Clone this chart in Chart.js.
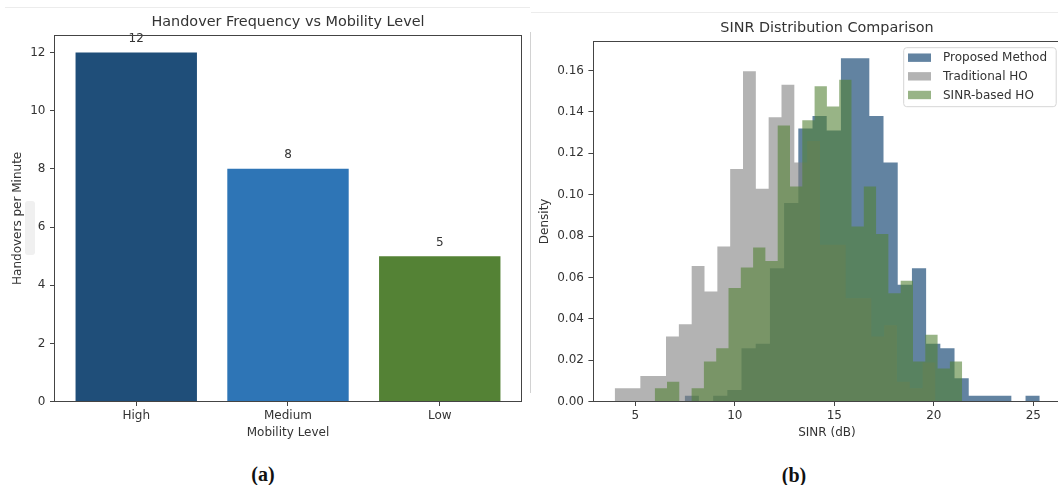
<!DOCTYPE html>
<html>
<head>
<meta charset="utf-8">
<title>Handover Frequency and SINR Distribution</title>
<script src="https://cdn.jsdelivr.net/npm/chart.js@4.4.1/dist/chart.umd.min.js"></script>
<style>
  html, body { margin:0; padding:0; width:1058px; height:485px; overflow:hidden; background:#ffffff; }
  .abs { position:absolute; }
  canvas { display:block; }
  #boxA { left:0; top:0; width:530px; height:440px; }
  #boxB { left:530px; top:0; width:540px; height:440px; }
  .cap { position:absolute; font-family:'Liberation Serif','DejaVu Serif',serif; font-weight:bold; font-size:20px; line-height:20px; color:#111; transform:translateX(-50%); white-space:nowrap; }
</style>
</head>
<body>
<div class="abs" style="left:5px;top:7px;width:525px;height:1px;background:#ececec"></div>
<div class="abs" style="left:531px;top:12px;width:527px;height:1px;background:#ececec"></div>
<div class="abs" style="left:530px;top:32px;width:1px;height:361px;background:#d2d2d2"></div>
<div class="abs" style="left:25px;top:201px;width:10px;height:54px;background:#f0f0f0;border-radius:3px"></div>
<div class="abs" id="boxA"><canvas id="chartA" width="530" height="440"></canvas></div>
<div class="abs" id="boxB"><canvas id="chartB" width="540" height="440"></canvas></div>
<div class="cap" style="left:263px;top:464px">(a)</div>
<div class="cap" style="left:794px;top:465px">(b)</div>
<script>
// ---------- data: panel (a) ----------
const mobilityLevels = ['High', 'Medium', 'Low'];
const handoversPerMinute = [12, 8, 5];
const mobilityColors = ['#1f4e79', '#2e75b6', '#548235'];
const handoverTicks = [0, 2, 4, 6, 8, 10, 12];
const titleA = 'Handover Frequency vs Mobility Level';
const xLabelA = 'Mobility Level';
const yLabelA = 'Handovers per Minute';

// ---------- data: panel (b) ----------
const titleB = 'SINR Distribution Comparison';
const xLabelB = 'SINR (dB)';
const yLabelB = 'Density';
const sinrTicks = [5, 10, 15, 20, 25];
const densityTicks = [0, 0.02, 0.04, 0.06, 0.08, 0.10, 0.12, 0.14, 0.16];

const proposedEdges = [7.482, 8.196, 8.909, 9.623, 10.336, 11.050, 11.764, 12.477, 13.191, 13.904,
  14.618, 15.332, 16.045, 16.759, 17.472, 18.186, 18.900, 19.613, 20.327, 21.040,
  21.754, 22.468, 23.181, 23.895, 24.608, 25.322];
const proposedDensity = [0.0029, 0, 0.0029, 0.0057, 0.0258, 0.0280, 0.0645, 0.0960, 0.1320, 0.1380,
  0.1310, 0.1660, 0.1660, 0.1380, 0.1156, 0.0565, 0.0645, 0.0280, 0.0258, 0.0113,
  0.0029, 0.0029, 0.0029, 0, 0.0029];

const traditionalEdges = [3.965, 4.610, 5.254, 5.899, 6.544, 7.189, 7.833, 8.478, 9.123, 9.767,
  10.412, 11.057, 11.701, 12.346, 12.991, 13.636, 14.280, 14.925, 15.570, 16.214,
  16.859, 17.504, 18.148, 18.793, 19.438, 20.083];
const traditionalDensity = [0.0065, 0.0065, 0.0124, 0.0124, 0.0315, 0.0374, 0.0656, 0.0532, 0.0750, 0.1124,
  0.1597, 0.1029, 0.1374, 0.1531, 0.1156, 0.1260, 0.0758, 0.0758, 0.0500, 0.0500,
  0.0315, 0.0370, 0.0097, 0.0065, 0.0190];

const sinrBasedEdges = [5.975, 6.593, 7.211, 7.829, 8.447, 9.065, 9.683, 10.301, 10.919, 11.537,
  12.155, 12.773, 13.391, 14.009, 14.627, 15.245, 15.863, 16.481, 17.099, 17.717,
  18.335, 18.953, 19.571, 20.189, 20.807, 21.425];
const sinrBasedDensity = [0.0065, 0.0097, 0, 0.0065, 0.0194, 0.0258, 0.0549, 0.0648, 0.0745, 0.0680,
  0.1334, 0.1040, 0.1360, 0.1524, 0.1427, 0.1556, 0.0847, 0.1040, 0.0810, 0.0524,
  0.0585, 0.0194, 0.0323, 0.0160, 0.0194];

const seriesNames = ['Proposed Method', 'Traditional HO', 'SINR-based HO'];
const seriesColors = ['rgba(31,78,121,0.70)', 'rgba(128,128,128,0.60)', 'rgba(84,130,53,0.60)'];

// ---------- shared styling ----------
Chart.defaults.font.family = "'DejaVu Sans', sans-serif";
Chart.defaults.font.size = 12;
Chart.defaults.color = '#333333';

const TEXT = '#333333';
const tickGrid = { display: true, drawOnChartArea: false, drawTicks: true, tickLength: 4.3, tickColor: '#444444', tickWidth: 1, offset: false };

const spines = {
  id: 'spines',
  afterDatasetsDraw(chart) {
    const { ctx, chartArea: a } = chart;
    ctx.save();
    ctx.strokeStyle = '#444444';
    ctx.lineWidth = 1;
    const l = Math.round(a.left) + 0.5, t = Math.round(a.top) + 0.5;
    const r = Math.round(a.right) - 0.5, b = Math.round(a.bottom) - 0.5;
    ctx.strokeRect(l, t, r - l, b - t);
    ctx.restore();
  }
};

// ---------- panel (a) ----------
const barValueLabels = {
  id: 'barValueLabels',
  afterDatasetsDraw(chart) {
    const ctx = chart.ctx;
    const meta = chart.getDatasetMeta(0);
    ctx.save();
    ctx.font = "12px 'DejaVu Sans', sans-serif";
    ctx.fillStyle = TEXT;
    ctx.textAlign = 'center';
    ctx.textBaseline = 'middle';
    meta.data.forEach((bar, i) => {
      ctx.fillText(String(handoversPerMinute[i]), bar.x, bar.y - 13.5);
    });
    ctx.restore();
  }
};

new Chart(document.getElementById('chartA'), {
  type: 'bar',
  data: {
    datasets: [{
      data: handoversPerMinute.map((v, i) => ({ x: i, y: v })),
      backgroundColor: mobilityColors,
      borderWidth: 0,
      barPercentage: 0.8,
      categoryPercentage: 1.0
    }]
  },
  options: {
    responsive: false,
    animation: false,
    events: [],
    layout: { padding: { left: 0, right: 8.3, top: 0, bottom: 0 } },
    plugins: {
      legend: { display: false },
      tooltip: { enabled: false },
      title: {
        display: true, text: titleA, fullSize: false, color: TEXT,
        font: { size: 14.4, weight: 'normal' },
        padding: { top: 14, bottom: 3.7 }
      }
    },
    scales: {
      x: {
        type: 'linear', min: -0.54, max: 2.54, offset: false,
        afterBuildTicks: s => { s.ticks = mobilityLevels.map((c, i) => ({ value: i })); },
        ticks: { callback: v => mobilityLevels[Math.round(v)], padding: 3, maxRotation: 0, autoSkip: false, color: TEXT },
        grid: tickGrid,
        border: { display: false },
        title: { display: true, text: xLabelA, color: TEXT, padding: { top: 0, bottom: 0 } },
        afterFit: s => { s.height = 38.3; }
      },
      y: {
        min: 0, max: 12.6,
        afterBuildTicks: s => { s.ticks = handoverTicks.map(v => ({ value: v })); },
        ticks: { padding: 4.5, color: TEXT },
        grid: tickGrid,
        border: { display: false },
        title: { display: true, text: yLabelA, color: TEXT, padding: { top: 10.5, bottom: 0 } },
        afterFit: s => { s.width = 54.3; }
      }
    }
  },
  plugins: [barValueLabels, spines]
});

// ---------- panel (b) ----------
function histPoints(edges, dens) {
  return edges.map((e, i) => ({ x: e, y: i < dens.length ? dens[i] : dens[dens.length - 1] }));
}
const histSets = [
  [proposedEdges, proposedDensity],
  [traditionalEdges, traditionalDensity],
  [sinrBasedEdges, sinrBasedDensity]
];
const drawOrder = [3, 2, 1]; // proposed at the bottom, SINR-based on top

const histLegend = {
  id: 'histLegend',
  afterDraw(chart) {
    const { ctx, chartArea: a } = chart;
    const right = a.right - 5, width = 152.5, left = right - width;
    const top = a.top + 6.7, height = 59, rad = 3;
    ctx.save();
    ctx.beginPath();
    ctx.moveTo(left + rad, top);
    ctx.lineTo(right - rad, top); ctx.quadraticCurveTo(right, top, right, top + rad);
    ctx.lineTo(right, top + height - rad); ctx.quadraticCurveTo(right, top + height, right - rad, top + height);
    ctx.lineTo(left + rad, top + height); ctx.quadraticCurveTo(left, top + height, left, top + height - rad);
    ctx.lineTo(left, top + rad); ctx.quadraticCurveTo(left, top, left + rad, top);
    ctx.closePath();
    ctx.fillStyle = 'rgba(255,255,255,0.8)';
    ctx.fill();
    ctx.strokeStyle = '#d6d6d6';
    ctx.lineWidth = 1;
    ctx.stroke();
    ctx.font = "12px 'DejaVu Sans', sans-serif";
    ctx.textAlign = 'left';
    ctx.textBaseline = 'middle';
    chart.data.datasets.forEach((ds, i) => {
      const cy = top + 10 + i * 18.65;
      ctx.fillStyle = ds.backgroundColor;
      ctx.fillRect(left + 4.3, cy - 4.2, 23, 8.4);
      ctx.fillStyle = TEXT;
      ctx.fillText(ds.label, left + 39.3, cy + 0.5);
    });
    ctx.restore();
  }
};

const yMaxB = Math.max(...proposedDensity, ...traditionalDensity, ...sinrBasedDensity) * 1.05;

new Chart(document.getElementById('chartB'), {
  type: 'line',
  data: {
    datasets: histSets.map(([edges, dens], i) => ({
      label: seriesNames[i],
      data: histPoints(edges, dens),
      stepped: true,
      fill: 'origin',
      backgroundColor: seriesColors[i],
      borderColor: 'rgba(0,0,0,0)',
      borderWidth: 1,
      pointRadius: 0,
      pointHoverRadius: 0,
      tension: 0,
      order: drawOrder[i]
    }))
  },
  options: {
    responsive: false,
    animation: false,
    events: [],
    layout: { padding: { left: 0, right: 8.8, top: 0, bottom: 0 } },
    plugins: {
      legend: { display: false },
      tooltip: { enabled: false },
      title: {
        display: true, text: titleB, fullSize: false, color: TEXT,
        font: { size: 14.4, weight: 'normal' },
        padding: { top: 20, bottom: 3.7 }
      }
    },
    scales: {
      x: {
        type: 'linear', min: 2.86, max: 26.4, offset: false,
        afterBuildTicks: s => { s.ticks = sinrTicks.map(v => ({ value: v })); },
        ticks: { padding: 3, maxRotation: 0, autoSkip: false, color: TEXT },
        grid: tickGrid,
        border: { display: false },
        title: { display: true, text: xLabelB, color: TEXT, padding: { top: 0, bottom: 0 } },
        afterFit: s => { s.height = 38.3; }
      },
      y: {
        type: 'linear', min: 0, max: yMaxB,
        afterBuildTicks: s => { s.ticks = densityTicks.map(v => ({ value: v })); },
        ticks: { callback: v => Number(v).toFixed(2), padding: 4.5, color: TEXT },
        grid: tickGrid,
        border: { display: false },
        title: { display: true, text: yLabelB, color: TEXT, padding: { top: 7.8, bottom: 0 } },
        afterFit: s => { s.width = 62.7; }
      }
    }
  },
  plugins: [spines, histLegend]
});
</script>
</body>
</html>
